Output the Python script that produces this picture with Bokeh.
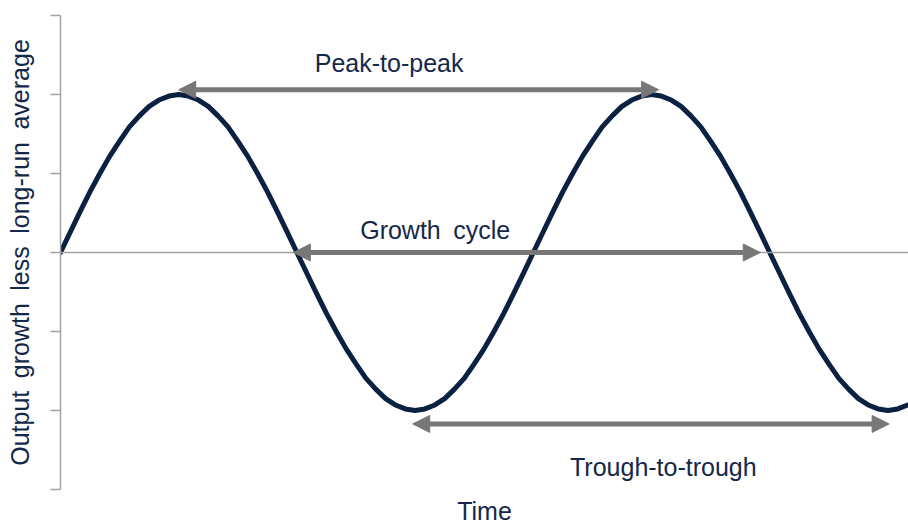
from bokeh.plotting import figure
from bokeh.models import Arrow, NormalHead, Label, Span, FixedTicker, Range1d
from bokeh.embed import file_html
from bokeh.resources import INLINE

# ---- data (time in quarter-cycle units, output gap in arbitrary units) ----
time = [0.0, 0.083, 0.167, 0.25, 0.333, 0.417, 0.5, 0.583, 0.667, 0.75, 0.833, 0.917,
        1.0, 1.083, 1.167, 1.25, 1.333, 1.417, 1.5, 1.583, 1.667, 1.75, 1.833, 1.917,
        2.0, 2.083, 2.167, 2.25, 2.333, 2.417, 2.5, 2.583, 2.667, 2.75, 2.833, 2.917,
        3.0, 3.083, 3.167, 3.25, 3.333, 3.417, 3.5, 3.583, 3.667, 3.75, 3.833, 3.917,
        4.0, 4.083, 4.167, 4.25, 4.333, 4.417, 4.5, 4.583, 4.667, 4.75, 4.833, 4.917,
        5.0, 5.083, 5.167, 5.25, 5.333, 5.417, 5.5, 5.583, 5.667, 5.75, 5.833, 5.917,
        6.0, 6.083, 6.167, 6.25, 6.333, 6.417, 6.5, 6.583, 6.667, 6.75, 6.833, 6.917,
        7.0, 7.083, 7.167]
output_gap = [0.0, 0.26, 0.52, 0.77, 1.0, 1.22, 1.41, 1.59, 1.73, 1.85, 1.93, 1.98,
              2.0, 1.98, 1.93, 1.85, 1.73, 1.59, 1.41, 1.22, 1.0, 0.77, 0.52, 0.26,
              0.0, -0.26, -0.52, -0.77, -1.0, -1.22, -1.41, -1.59, -1.73, -1.85, -1.93, -1.98,
              -2.0, -1.98, -1.93, -1.85, -1.73, -1.59, -1.41, -1.22, -1.0, -0.77, -0.52, -0.26,
              0.0, 0.26, 0.52, 0.77, 1.0, 1.22, 1.41, 1.59, 1.73, 1.85, 1.93, 1.98,
              2.0, 1.98, 1.93, 1.85, 1.73, 1.59, 1.41, 1.22, 1.0, 0.77, 0.52, 0.26,
              0.0, -0.26, -0.52, -0.77, -1.0, -1.22, -1.41, -1.59, -1.73, -1.85, -1.93, -1.98,
              -2.0, -1.98, -1.93]
y_ticks = [-3, -2, -1, 0, 1, 2, 3]

arrow_labels = ["Peak-to-peak", "Growth\u2002cycle", "Trough-to-trough"]
arrow_start = [1.0, 1.97, 2.98]
arrow_end = [5.06, 5.92, 7.01]
arrow_level = [2.06, 0.0, -2.17]
label_x = [2.78, 3.17, 5.10]
label_y = [2.40, 0.29, -2.71]

x_title = "Time"
y_title = "Output\u2002growth\u2002less\u2002long-run\u2002average"

NAVY = "#0b2142"
TEXT = "#14284a"
GREY = "#777777"
AXIS = "#a3a3a3"
FONT = "Liberation Sans"

p = figure(width=908, height=527, output_backend="svg", toolbar_location=None,
           x_range=Range1d(0, 7.174), y_range=Range1d(-3, 3),
           min_border_left=60, min_border_right=0, min_border_top=15,
           min_border_bottom=35)
p.outline_line_color = None
p.xgrid.visible = False
p.ygrid.visible = False

ax = p.yaxis[0]
ax.ticker = FixedTicker(ticks=y_ticks)
ax.major_label_overrides = {t: "" for t in y_ticks}
ax.major_tick_in = 0
ax.major_tick_out = 10
ax.minor_tick_line_color = None
ax.axis_line_color = AXIS
ax.axis_line_width = 1.5
ax.major_tick_line_color = AXIS
ax.major_tick_line_width = 1.5
ax.axis_label = y_title
ax.axis_label_text_font = FONT
ax.axis_label_text_font_size = "25px"
ax.axis_label_text_font_style = "normal"
ax.axis_label_text_color = TEXT
ax.axis_label_standoff = 17

bx = p.xaxis[0]
bx.ticker = FixedTicker(ticks=[])
bx.axis_line_color = None
bx.major_tick_line_color = None
bx.minor_tick_line_color = None
bx.major_tick_in = 0
bx.major_tick_out = 0
bx.axis_label = x_title
bx.axis_label_text_font = FONT
bx.axis_label_text_font_size = "25px"
bx.axis_label_text_font_style = "normal"
bx.axis_label_text_color = TEXT
bx.axis_label_standoff = 7

p.add_layout(Span(location=0, dimension="width", line_color=AXIS, line_width=1.5))

p.line(time, output_gap, line_width=5, line_color=NAVY, line_join="round", line_cap="round")

for s, e, lvl in zip(arrow_start, arrow_end, arrow_level):
    p.add_layout(Arrow(
        start=NormalHead(size=17, fill_color=GREY, line_color=GREY, line_width=1),
        end=NormalHead(size=17, fill_color=GREY, line_color=GREY, line_width=1),
        x_start=s, y_start=lvl, x_end=e, y_end=lvl,
        line_color=GREY, line_width=5))

for txt, lx, ly in zip(arrow_labels, label_x, label_y):
    p.add_layout(Label(x=lx, y=ly, text=txt, text_font=FONT, text_font_size="25px",
                       text_color=TEXT, text_align="center", text_baseline="alphabetic"))

open("out.html", "w").write(file_html(p, INLINE))
